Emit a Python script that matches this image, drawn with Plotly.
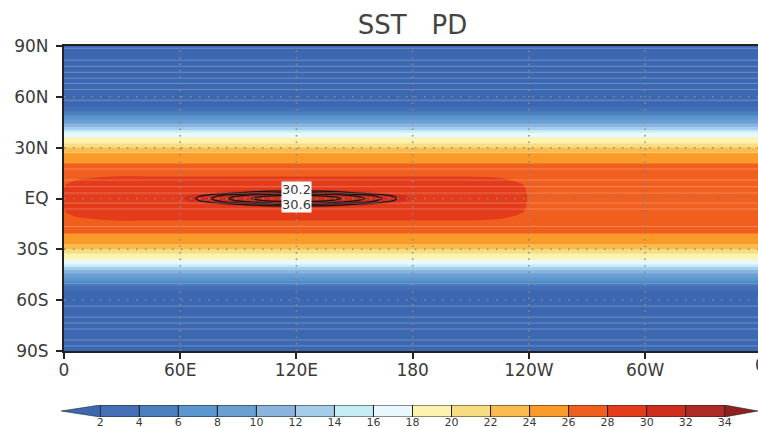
import numpy as np
import plotly.graph_objects as go

W, H = 758, 428

# Latitude nodes (north side, mirrored for the south) and zonal field
lat_north = [90, 70, 54, 51.4, 49, 46.6, 44.3, 42.2, 40.4, 39, 36, 32.5, 30, 26.9, 20.7,
             15, 13, 12, 10, 8, 7, 6, 5.3, 4.4, 3.5, 2.7, 2, 1, 0]
sst_zonal = [0.4, 0.8, 2, 4, 6, 8, 10, 12, 14, 16, 18, 20, 22, 24, 26,
             27.3, 27.5, 27.5, 27.55, 27.6, 27.6, 27.6, 27.6, 27.6, 27.6, 27.6, 27.6, 27.6, 27.6]
pool_lat = [0, 0, 0, 0, 0, 0, 0, 0, 0, 0, 0, 0, 0, 0, 0,
            0, 0.5, 0.65, 0.8, 0.9, 0.92, 0.95, 0.95, 0.97, 0.98, 0.99, 1, 1, 1]
core_lat = [0, 0, 0, 0, 0, 0, 0, 0, 0, 0, 0, 0, 0, 0, 0,
            0, 0, 0, 0, 0, 0, 0.3, 0.6, 0.7, 0.77, 0.84, 0.92, 0.98, 1]

# Longitude nodes for the warm pool
lon_nodes = [0, 8, 15, 25, 45, 55, 62, 68, 76, 85, 97, 108, 120, 132, 143, 155, 164, 172, 178,
             190, 200, 215, 225, 232, 237, 240, 245, 250, 360]
pool_lon = [0.42, 0.68, 0.8, 1, 1, 1, 1, 1, 1, 1, 1, 1, 1, 1, 1, 1, 1, 1, 1,
            1, 1, 0.95, 0.8, 0.6, 0.45, 0.38, 0.1, 0, 0]
core_lon = [0, 0, 0, 0, 0, 0.8, 1.4, 1.6, 1.8, 2.0, 2.2, 2.33, 2.4, 2.33, 2.2, 2.0, 1.8, 1.6, 1.4,
            0.6, 0, 0, 0, 0, 0, 0, 0, 0, 0]

streak_lat = [88.7, 81.6, 78, 74.5, 71, 67.9, 64.3, 58, 27, 17.4, 10.9, 7, 3.2,
              -2.7, -6.2, -16.5, -50, -63.5, -70, -73.5, -77, -83.5, -87]

band_colors = ["#3c68b2", "#4470b8", "#4a80c0", "#5a96cf", "#6a9fd4", "#8ab4de", "#a3cdeb", "#c5ecf5",
               "#e8f8fd", "#fdf3ae", "#f7dd82", "#fbbb4e", "#fa9a28", "#f15f1e", "#e43c1b", "#cf2e1c",
               "#ad2a25", "#8f2020"]
bar_levels = [2, 4, 6, 8, 10, 12, 14, 16, 18, 20, 22, 24, 26, 28, 30, 32, 34]
bar_tips = [0, 35.7]

y_ticks = [90, 60, 30, 0, -30, -60, -90]
y_labels = ["90N", "60N", "30N", "EQ", "30S", "60S", "90S"]
x_ticks = [0, 60, 120, 180, 240, 300]
x_labels = ["0", "60E", "120E", "180", "120W", "60W"]
grid_lon = [60, 120, 180, 240, 300]
grid_lat = [60, 30, 0, -30, -60]
contour_labels = [("30.2", 120, 5.3), ("30.6", 120, -3.6)]

TXT = "#3a3a3a"
FONT = "DejaVu Sans"

# Assemble the grid from the arrays above
lats = np.array([-v for v in lat_north[:-1]] + lat_north[::-1])
def sym(a):
    return np.array(list(a[:-1]) + list(a[::-1]))
base, pl, cl = sym(sst_zonal), sym(pool_lat), sym(core_lat)
plon, clon = np.array(pool_lon), np.array(core_lon)
z = base[:, None] + pl[:, None] * plon[None, :] + cl[:, None] * clon[None, :]

# Stepped colour scale across 0..36
n = len(band_colors)
cs = []
for i, c in enumerate(band_colors):
    cs += [[i / n, c], [(i + 1) / n, c]]

fig = go.Figure()
fig.add_trace(go.Contour(
    x=lon_nodes, y=lats, z=z, colorscale=cs, autocontour=False, showscale=False,
    zmin=0, zmax=36, hoverinfo="skip",
    contours=dict(start=0, end=36, size=2, coloring="fill", showlines=False),
    line=dict(width=0),
))

# Light streaks between grid rows
sx, sy = [], []
for la in streak_lat:
    sx += [0, 360, None]
    sy += [la, la, None]
fig.add_trace(go.Scatter(x=sx, y=sy, mode="lines", hoverinfo="skip", showlegend=False,
                         line=dict(color="rgba(255,255,255,0.25)", width=1)))

# Black contours
fig.add_trace(go.Contour(
    x=lon_nodes, y=lats, z=z, showscale=False, autocontour=False, hoverinfo="skip",
    colorscale=[[0, "#111"], [1, "#111"]],
    contours=dict(start=30.2, end=30.8, size=0.2, coloring="lines"),
    line=dict(width=1.2, color="#111"),
))

# Dotted graticule
gx, gy = [], []
for lo in grid_lon:
    gx += [lo, lo, None]
    gy += [-90, 90, None]
fig.add_trace(go.Scatter(x=gx, y=gy, mode="lines", hoverinfo="skip", showlegend=False,
                         line=dict(color="#8a8a8a", width=1.5, dash="1.5px,5px")))
gx, gy = [], []
for la in grid_lat:
    gx += [0, 360, None]
    gy += [la, la, None]
fig.add_trace(go.Scatter(x=gx, y=gy, mode="lines", hoverinfo="skip", showlegend=False,
                         line=dict(color="#8a8a8a", width=1.5, dash="1.5px,7.5px")))

# Colour bar
mids = [l + 1 for l in bar_levels[:-1]]
fig.add_trace(go.Bar(x=mids, y=[1] * len(mids), width=2, xaxis="x2", yaxis="y2",
                     marker=dict(color=band_colors[1:-1], line=dict(color="#222", width=1)),
                     hoverinfo="skip", showlegend=False))
fig.add_trace(go.Scatter(x=[bar_levels[0], bar_levels[0], bar_tips[0], bar_levels[0]], y=[0, 1, 0.5, 0],
                         xaxis="x2", yaxis="y2", mode="lines", fill="toself",
                         fillcolor=band_colors[0], line=dict(color="#222", width=0.6),
                         hoverinfo="skip", showlegend=False))
fig.add_trace(go.Scatter(x=[bar_levels[-1], bar_levels[-1], bar_tips[1], bar_levels[-1]], y=[0, 1, 0.5, 0],
                         xaxis="x2", yaxis="y2", mode="lines", fill="toself",
                         fillcolor=band_colors[-1], line=dict(color="#222", width=0.6),
                         hoverinfo="skip", showlegend=False))

annots = [dict(text=t, x=lo, y=la, xref="x", yref="y", showarrow=False, bgcolor="white", borderpad=0,
               font=dict(family=FONT, size=13, color=TXT)) for t, lo, la in contour_labels]
annots.append(dict(text=x_labels[0], x=761 / W, y=1 - 365 / H, xref="paper", yref="paper", showarrow=False,
                   xanchor="center", yanchor="middle", font=dict(family=FONT, size=17, color=TXT)))

fig.update_layout(
    width=W, height=H, margin=dict(l=0, r=0, t=0, b=0, autoexpand=False), autosize=False,
    paper_bgcolor="white", plot_bgcolor="white", showlegend=False, barmode="overlay",
    title=dict(text="SST\u00a0\u00a0\u00a0PD", x=412.5 / W, xanchor="center", xref="paper",
               y=1 - 25 / H, yref="paper", yanchor="middle",
               font=dict(family=FONT, size=26, color="#444444")),
    annotations=annots,
    xaxis=dict(domain=[64 / W, 1], range=[0, (W - 64) / 1.937], tickmode="array", tickvals=x_ticks,
               ticktext=x_labels, ticks="outside", ticklen=6, tickwidth=1.5, tickcolor="#222",
               showgrid=False, zeroline=False, showline=True, linecolor="#222", linewidth=2, mirror=True,
               ticklabelstandoff=-3,
               tickfont=dict(family=FONT, size=17, color=TXT), anchor="y"),
    yaxis=dict(domain=[1 - 351 / H, 1 - 46 / H], range=[-90, 90], tickmode="array", tickvals=y_ticks,
               ticktext=y_labels, ticks="outside", ticklen=6, tickwidth=1.5, tickcolor="#222",
               showgrid=False, zeroline=False, showline=True, linecolor="#222", linewidth=2,
               ticklabelstandoff=4,
               tickfont=dict(family=FONT, size=17, color=TXT), anchor="x"),
    xaxis2=dict(domain=[0, 1], range=[2 - 100.3 / 19.51, 34 + (W - 724.7) / 19.51], anchor="y2",
                tickmode="array", tickvals=bar_levels, ticktext=[str(v) for v in bar_levels],
                ticks="", showgrid=False, zeroline=False, showline=False, ticklabelstandoff=-3,
                tickfont=dict(family=FONT, size=11, color=TXT)),
    yaxis2=dict(domain=[1 - 417 / H, 1 - 405 / H], range=[0, 1], anchor="x2", visible=False, fixedrange=True),
)
fig.write_html("out.html", config=dict(displayModeBar=False),
               post_script="document.body.style.margin='0';document.body.style.overflow='hidden';")
